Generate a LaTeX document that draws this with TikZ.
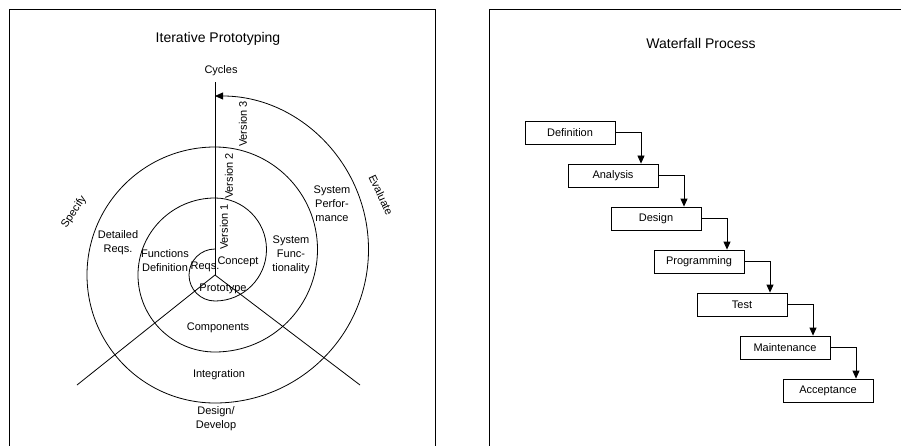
\documentclass[tikz,border=0pt]{standalone}
\usepackage{fontspec}
\setmainfont{Liberation Sans}
\usetikzlibrary{positioning,arrows.meta}

\begin{document}
\begin{tikzpicture}[x=1pt,y=1pt,line width=0.8pt,
  font=\fontsize{11}{14}\selectfont,
  lbl/.style={align=center,inner sep=0pt},
  heading/.style={font=\fontsize{14}{16}\selectfont},
  stage/.style={draw,minimum width=90pt,minimum height=23pt,inner sep=0pt},
  flow/.style={-{Triangle[length=8pt,width=7pt]}}]
\useasboundingbox (0,0) rectangle (901,445);
% the two frames
\draw (9.5,-5) -- (9.5,435.5) -- (435.5,435.5) -- (435.5,-5);
\draw (489,-5) -- (489,435.5) -- (910,435.5);

% iterative prototyping
\node[heading] (ipt) at (218,406) {Iterative Prototyping};
\coordinate (ctr) at (215,170);
\coordinate (top) at (215,363);
\coordinate (sw) at (77,60);
\coordinate (se) at (360,60);
\draw (ctr) -- (top);
\draw (ctr) -- (sw);
\draw (ctr) -- (se);
\draw[flow] (215,196) arc[start angle=90,end angle=270,radius=26]
  arc[start angle=-90,end angle=90,radius=51.5]
  arc[start angle=90,end angle=270,radius=77]
  arc[start angle=-90,end angle=90,radius=102.5]
  arc[start angle=90,end angle=270,radius=128]
  arc[start angle=-90,end angle=90,radius=153.5];
\node[lbl] (cyc) at (221,374) {Cycles};
\node[lbl,rotate=90] (v3) at (243,321) {Version 3};
\node[lbl,rotate=90] (v2) at (229,269) {Version 2};
\node[lbl,rotate=90] (v1) at (224,218) {Version 1};
\node[lbl,rotate=56] (spec) at (74,233) {Specify};
\node[lbl,rotate=-65] (eval) at (381,250) {Evaluate};
\node[lbl] (dreq) at (118,202) {Detailed\\Reqs.};
\node[lbl] (fdef) at (165,184) {Functions\\Definition};
\node[lbl] (req) at (205,178) {Reqs.};
\node[lbl] (conc) at (238,183) {Concept};
\node[lbl] (proto) at (223,156) {Prototype};
\node[lbl] (sfun) at (291,190) {System\\Func-\\tionality};
\node[lbl] (sperf) at (332,241) {System\\Perfor-\\mance};
\node[lbl] (comp) at (218,117) {Components};
\node[lbl] (integ) at (219,70) {Integration};
\node[lbl] (dsgn) at (216,26) {Design/\\Develop};

% waterfall process
\node[heading] (wft) at (701,402) {Waterfall Process};
\node[stage] (def) at (570,312.5) {Definition};
\node[stage] (ana) at (613,269.5) {Analysis};
\node[stage] (des) at (656,226.5) {Design};
\node[stage] (prog) at (699,183.5) {Programming};
\node[stage] (test) at (742,140.5) {Test};
\node[stage] (mnt) at (785,97.5) {Maintenance};
\node[stage] (acc) at (828,54.5) {Acceptance};
\draw[flow] (def.east) -| ([xshift=28pt]ana.north);
\draw[flow] (ana.east) -| ([xshift=28pt]des.north);
\draw[flow] (des.east) -| ([xshift=28pt]prog.north);
\draw[flow] (prog.east) -| ([xshift=28pt]test.north);
\draw[flow] (test.east) -| ([xshift=28pt]mnt.north);
\draw[flow] (mnt.east) -| ([xshift=28pt]acc.north);
\end{tikzpicture}
\end{document}
